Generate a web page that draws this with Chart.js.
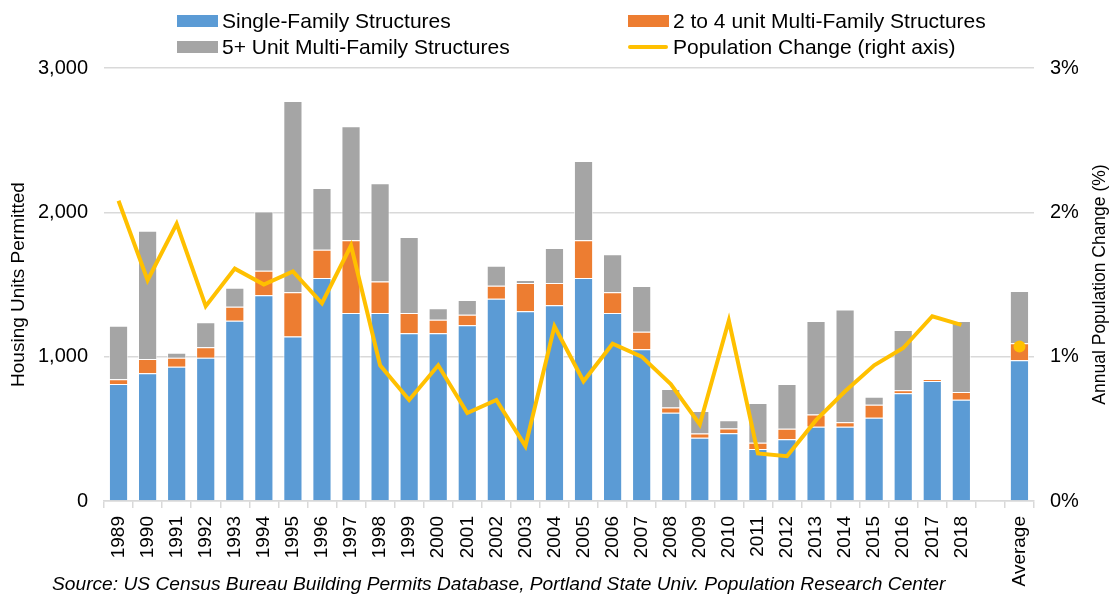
<!DOCTYPE html>
<html>
<head>
<meta charset="utf-8">
<script src="https://cdn.jsdelivr.net/npm/chart.js"></script>
<style>
    html, body { margin: 0; padding: 0; background: #fff; }
    #wrap { position: relative; width: 1109px; height: 595px; font-family: "Liberation Sans", Arial, sans-serif; }
    #chart { position: absolute; left: 0; top: 0; }
    .leg { position: absolute; font-size: 21px; line-height: 24px; color: #000; white-space: nowrap; }
    .leg .sw { position: absolute; left: 0; }
    .leg span.txt { position: absolute; left: 45px; top: 0; }
    #source { position: absolute; left: 52px; top: 573px; font-size: 19.2px; font-style: italic; color: #000; white-space: nowrap; }
</style>
</head>
<body>
<div id="wrap">
    <canvas id="chart" width="1109" height="595"></canvas>
    <div id="legend"></div>
    <div id="source">Source: US Census Bureau Building Permits Database, Portland State Univ. Population Research Center</div>
</div>
<script>
// --- дані ---
const years = ['1989', '1990', '1991', '1992', '1993', '1994', '1995', '1996', '1997', '1998',
    '1999', '2000', '2001', '2002', '2003', '2004', '2005', '2006', '2007', '2008',
    '2009', '2010', '2011', '2012', '2013', '2014', '2015', '2016', '2017', '2018', '', 'Average'];

const singleFamily = [811, 885, 931, 993, 1249, 1425, 1139, 1545, 1303, 1303,
    1162, 1162, 1217, 1402, 1314, 1356, 1545, 1303, 1051, 612,
    439, 469, 360, 427, 515, 515, 577, 746, 831, 702, null, 975];

const twoToFour = [32, 99, 62, 72, 97, 171, 307, 196, 503, 217,
    141, 94, 74, 90, 196, 154, 261, 143, 122, 35,
    28, 34, 44, 74, 85, 30, 90, 21, 14, 53, null, 118];

const fivePlus = [372, 889, 35, 173, 132, 409, 1325, 428, 790, 681,
    526, 79, 102, 138, 21, 243, 550, 263, 317, 129,
    157, 56, 275, 310, 647, 781, 56, 418, 0, 492, null, 362];

// річна зміна населення, %
const popChange = [2.08, 1.53, 1.92, 1.35, 1.61, 1.50, 1.59, 1.37, 1.77, 0.94,
    0.70, 0.94, 0.61, 0.70, 0.38, 1.21, 0.83, 1.09, 1.00, 0.81,
    0.53, 1.25, 0.33, 0.31, 0.56, 0.76, 0.94, 1.06, 1.28, 1.22, null, 1.07];

const leftTicks = [0, 1000, 2000, 3000];
const rightTicks = [0, 1, 2, 3];

const seriesNames = ['Single-Family Structures', '2 to 4 unit Multi-Family Structures',
    '5+ Unit Multi-Family Structures', 'Population Change (right axis)'];
const colors = { blue: '#5B9BD5', orange: '#ED7D31', gray: '#A5A5A5', yellow: '#FFC000' };

// --- легенда (2 колонки) ---
function buildLegend() {
    const box = document.getElementById('legend');
    const items = [
        { name: seriesNames[0], color: colors.blue, x: 177, y: 9, line: false },
        { name: seriesNames[1], color: colors.orange, x: 628, y: 9, line: false },
        { name: seriesNames[2], color: colors.gray, x: 177, y: 35, line: false },
        { name: seriesNames[3], color: colors.yellow, x: 628, y: 35, line: true }
    ];
    items.forEach(it => {
        const d = document.createElement('div');
        d.className = 'leg';
        d.style.left = it.x + 'px';
        d.style.top = it.y + 'px';
        const sw = it.line
            ? `<div class="sw" style="top:10px;width:40px;height:4px;background:${it.color};border-radius:2px"></div>`
            : `<div class="sw" style="top:6px;width:41px;height:12px;background:${it.color}"></div>`;
        d.innerHTML = sw + `<span class="txt">${it.name}</span>`;
        box.appendChild(d);
    });
}
buildLegend();

// назва правої осі (читається знизу вгору)
const rightTitle = {
    id: 'rightTitle',
    afterDraw(chart) {
        const ctx = chart.ctx;
        const a = chart.chartArea;
        ctx.save();
        ctx.translate(1100, (a.top + a.bottom) / 2);
        ctx.rotate(-Math.PI / 2);
        ctx.font = '17.5px "Liberation Sans", Arial, sans-serif';
        ctx.fillStyle = '#000';
        ctx.textAlign = 'center';
        ctx.textBaseline = 'middle';
        ctx.fillText('Annual Population Change (%)', 0, 0);
        ctx.restore();
    }
};

const tickFont = { family: '"Liberation Sans", Arial, sans-serif', size: 20 };

new Chart(document.getElementById('chart').getContext('2d'), {
    data: {
        labels: years,
        datasets: [
            {
                type: 'line',
                label: seriesNames[3],
                data: popChange,
                yAxisID: 'y1',
                borderColor: colors.yellow,
                backgroundColor: colors.yellow,
                borderWidth: 4,
                tension: 0,
                spanGaps: false,
                pointRadius: popChange.map((v, i) => i === popChange.length - 1 ? 6 : 0),
                pointBorderWidth: 0,
                order: 0
            },
            {
                type: 'bar', label: seriesNames[0], data: singleFamily, yAxisID: 'y',
                backgroundColor: colors.blue, borderColor: 'rgba(255,255,255,0.7)', borderWidth: 1, order: 1
            },
            {
                type: 'bar', label: seriesNames[1], data: twoToFour, yAxisID: 'y',
                backgroundColor: colors.orange, borderColor: 'rgba(255,255,255,0.7)', borderWidth: 1, order: 1
            },
            {
                type: 'bar', label: seriesNames[2], data: fivePlus, yAxisID: 'y',
                backgroundColor: colors.gray, borderColor: 'rgba(255,255,255,0.7)', borderWidth: 1, order: 1
            }
        ]
    },
    options: {
        responsive: false,
        devicePixelRatio: 1,
        animation: false,
        layout: { padding: { top: 68, left: 0, right: 0, bottom: 0 } },
        datasets: { bar: { categoryPercentage: 1, barPercentage: 0.66 } },
        plugins: { legend: { display: false }, tooltip: { enabled: false } },
        scales: {
            x: {
                stacked: true,
                afterFit: s => { s.height = 94; },
                border: { display: true, color: '#d9d9d9', width: 1.5 },
                grid: { drawOnChartArea: false, drawTicks: true, tickLength: 7, color: '#d9d9d9', lineWidth: 1.5, offset: true },
                ticks: { font: { ...tickFont, size: 19 }, color: '#000', minRotation: 90, maxRotation: 90, autoSkip: false, padding: 8 }
            },
            y: {
                stacked: true,
                position: 'left',
                min: 0, max: 3000,
                afterFit: s => { s.width = 104; },
                afterBuildTicks: s => { s.ticks = leftTicks.map(v => ({ value: v })); },
                border: { display: false },
                grid: { color: '#d9d9d9', lineWidth: 1.5, drawTicks: false },
                ticks: { font: tickFont, color: '#000', padding: 16, callback: v => v.toLocaleString('en-US') },
                title: { display: true, text: 'Housing Units Permitted', font: { ...tickFont, size: 19 }, color: '#000', padding: { top: 7, bottom: 0 } }
            },
            y1: {
                position: 'right',
                min: 0, max: 3,
                afterFit: s => { s.width = 75; },
                afterBuildTicks: s => { s.ticks = rightTicks.map(v => ({ value: v })); },
                border: { display: false },
                grid: { display: false, drawTicks: false },
                ticks: { font: tickFont, color: '#000', padding: 16, callback: v => v + '%' }
            }
        }
    },
    plugins: [rightTitle]
});
</script>
</body>
</html>
